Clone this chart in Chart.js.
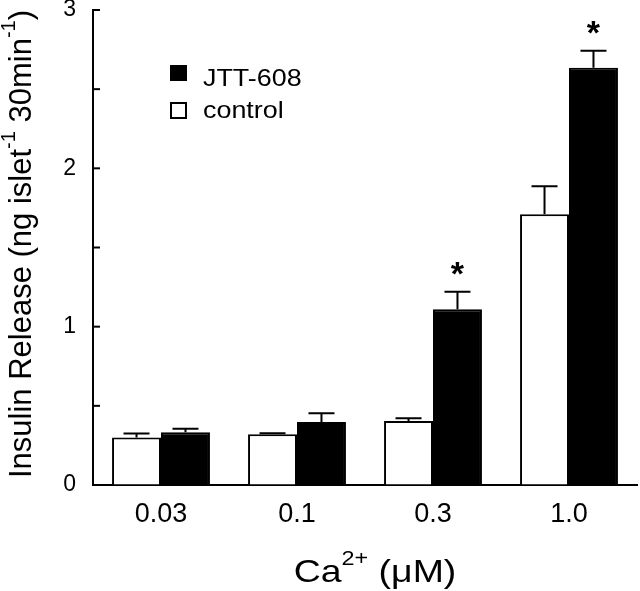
<!DOCTYPE html>
<html><head><meta charset="utf-8">
<script src="https://cdn.jsdelivr.net/npm/chart.js@4.4.0/dist/chart.umd.min.js"></script>
<style>html,body{margin:0;padding:0;background:#fff;} canvas{display:block;}</style>
</head><body>
<canvas id="c" width="640" height="591"></canvas>
<script>
const categories = ['0.03', '0.1', '0.3', '1.0'];
const controlValues = [0.30, 0.32, 0.405, 1.71];
const controlErrors = [0.025, 0.007, 0.017, 0.177];
const jttValues = [0.333, 0.398, 1.11, 2.635];
const jttErrors = [0.023, 0.055, 0.11, 0.107];
const jttSignificant = [false, false, true, true];
const yTickValues = [0, 1, 2, 3];
const legendLabels = ['JTT-608', 'control'];
// axis titles: [text, isSuperscript]
const xTitleParts = [['Ca', false], ['2+', true], [' (μM)', false]];
const yTitleParts = [['Insulin Release (ng islet', false], ['-1', true], [' 30min', false], ['-1', true], [')', false]];

const FONT = '"Liberation Sans", Arial, Helvetica, sans-serif';

function richWidth(ctx, parts, size) {
  let w = 0;
  parts.forEach(([t, sup]) => {
    ctx.font = (sup ? Math.round(size * 0.63) : size) + 'px ' + FONT;
    w += ctx.measureText(t).width;
  });
  return w;
}
function drawRich(ctx, parts, size, x0) {
  let x = x0;
  parts.forEach(([t, sup]) => {
    ctx.font = (sup ? Math.round(size * 0.63) : size) + 'px ' + FONT;
    ctx.fillText(t, x, sup ? -size * 0.52 : 0);
    x += ctx.measureText(t).width;
  });
}

const titlesPlugin = {
  id: 'richTitles',
  afterDraw(chart) {
    const ctx = chart.ctx;
    ctx.save();
    ctx.fillStyle = '#000';
    ctx.textAlign = 'left';
    ctx.textBaseline = 'alphabetic';
    ctx.save();
    ctx.translate(375, 582);
    ctx.scale(1.17, 1);
    const wx = richWidth(ctx, xTitleParts, 32);
    drawRich(ctx, xTitleParts, 32, -wx / 2);
    ctx.restore();
    ctx.save();
    ctx.translate(31, 244);
    ctx.rotate(-Math.PI / 2);
    const wy = richWidth(ctx, yTitleParts, 31);
    drawRich(ctx, yTitleParts, 31, -wy / 2);
    ctx.restore();
    ctx.restore();
  }
};

const errorBarPlugin = {
  id: 'errorBars',
  afterDatasetsDraw(chart) {
    const ctx = chart.ctx;
    const yScale = chart.scales.y;
    ctx.save();
    ctx.strokeStyle = '#000';
    ctx.lineWidth = 2;
    chart.data.datasets.forEach((ds, di) => {
      const meta = chart.getDatasetMeta(di);
      meta.data.forEach((bar, i) => {
        const v = ds.data[i];
        const e = ds.errors[i];
        const yTop = yScale.getPixelForValue(v);
        const yErr = yScale.getPixelForValue(v + e);
        ctx.beginPath();
        ctx.moveTo(bar.x, yTop);
        ctx.lineTo(bar.x, yErr);
        ctx.moveTo(bar.x - 13, yErr);
        ctx.lineTo(bar.x + 13, yErr);
        ctx.stroke();
        if (ds.significant && ds.significant[i]) {
          ctx.fillStyle = '#000';
          ctx.font = 'bold 34px ' + FONT;
          ctx.textAlign = 'center';
          ctx.textBaseline = 'alphabetic';
          ctx.fillText('*', bar.x, yErr - 7);
        }
      });
    });
    ctx.restore();
  }
};

const innerTicksPlugin = {
  id: 'innerTicks',
  afterDraw(chart) {
    const ctx = chart.ctx;
    const y = chart.scales.y;
    const x0 = chart.chartArea.left;
    ctx.save();
    ctx.strokeStyle = '#000';
    ctx.lineWidth = 2;
    y.ticks.forEach(t => {
      const py = y.getPixelForValue(t.value);
      ctx.beginPath();
      ctx.moveTo(x0, py);
      ctx.lineTo(x0 + 7, py);
      ctx.stroke();
    });
    ctx.restore();
  }
};

const legendPlugin = {
  id: 'customLegend',
  afterDraw(chart) {
    const ctx = chart.ctx;
    ctx.save();
    ctx.fillStyle = '#000';
    ctx.fillRect(170, 65, 17, 16);
    ctx.strokeStyle = '#000';
    ctx.lineWidth = 2;
    ctx.strokeRect(171, 103, 15, 15);
    ctx.font = '24px ' + FONT;
    ctx.textBaseline = 'alphabetic';
    ctx.textAlign = 'left';
    ctx.save();
    ctx.translate(203, 86);
    ctx.scale(1.12, 1);
    ctx.fillText(legendLabels[0], 0, 0);
    ctx.restore();
    ctx.save();
    ctx.translate(203, 118);
    ctx.scale(1.12, 1);
    ctx.fillText(legendLabels[1], 0, 0);
    ctx.restore();
    ctx.restore();
  }
};

new Chart(document.getElementById('c'), {
  type: 'bar',
  data: {
    labels: categories,
    datasets: [
      {
        label: legendLabels[1],
        data: controlValues,
        errors: controlErrors,
        backgroundColor: '#fff',
        borderColor: '#000',
        borderWidth: 2,
        categoryPercentage: 0.72,
        barPercentage: 1.0
      },
      {
        label: legendLabels[0],
        data: jttValues,
        errors: jttErrors,
        significant: jttSignificant,
        backgroundColor: '#000',
        borderColor: '#000',
        borderWidth: 2,
        categoryPercentage: 0.72,
        barPercentage: 1.0
      }
    ]
  },
  options: {
    responsive: false,
    animation: false,
    events: [],
    layout: { padding: { top: 10, right: 3, left: 0, bottom: 0 }, autoPadding: false },
    plugins: { legend: { display: false }, tooltip: { enabled: false } },
    scales: {
      x: {
        grid: { display: true, drawOnChartArea: false, drawTicks: false },
        border: { display: true, color: '#000', width: 2 },
        ticks: { color: '#000', font: { family: FONT, size: 27 }, padding: 13 },
        title: { display: false },
        afterFit(s) { s.height = 106; s.paddingLeft = 0; s.paddingRight = 0; }
      },
      y: {
        min: 0, max: 3,
        grid: { display: true, drawOnChartArea: false, drawTicks: false },
        border: { display: true, color: '#000', width: 2 },
        ticks: {
          stepSize: 0.5,
          color: '#000',
          font: { family: FONT, size: 23 },
          padding: 17,
          callback: (v) => yTickValues.includes(v) ? String(v) : ''
        },
        title: { display: false },
        afterFit(s) { s.width = 93; s.paddingTop = 0; s.paddingBottom = 0; }
      }
    }
  },
  plugins: [errorBarPlugin, innerTicksPlugin, legendPlugin, titlesPlugin]
});
</script>
</body></html>
